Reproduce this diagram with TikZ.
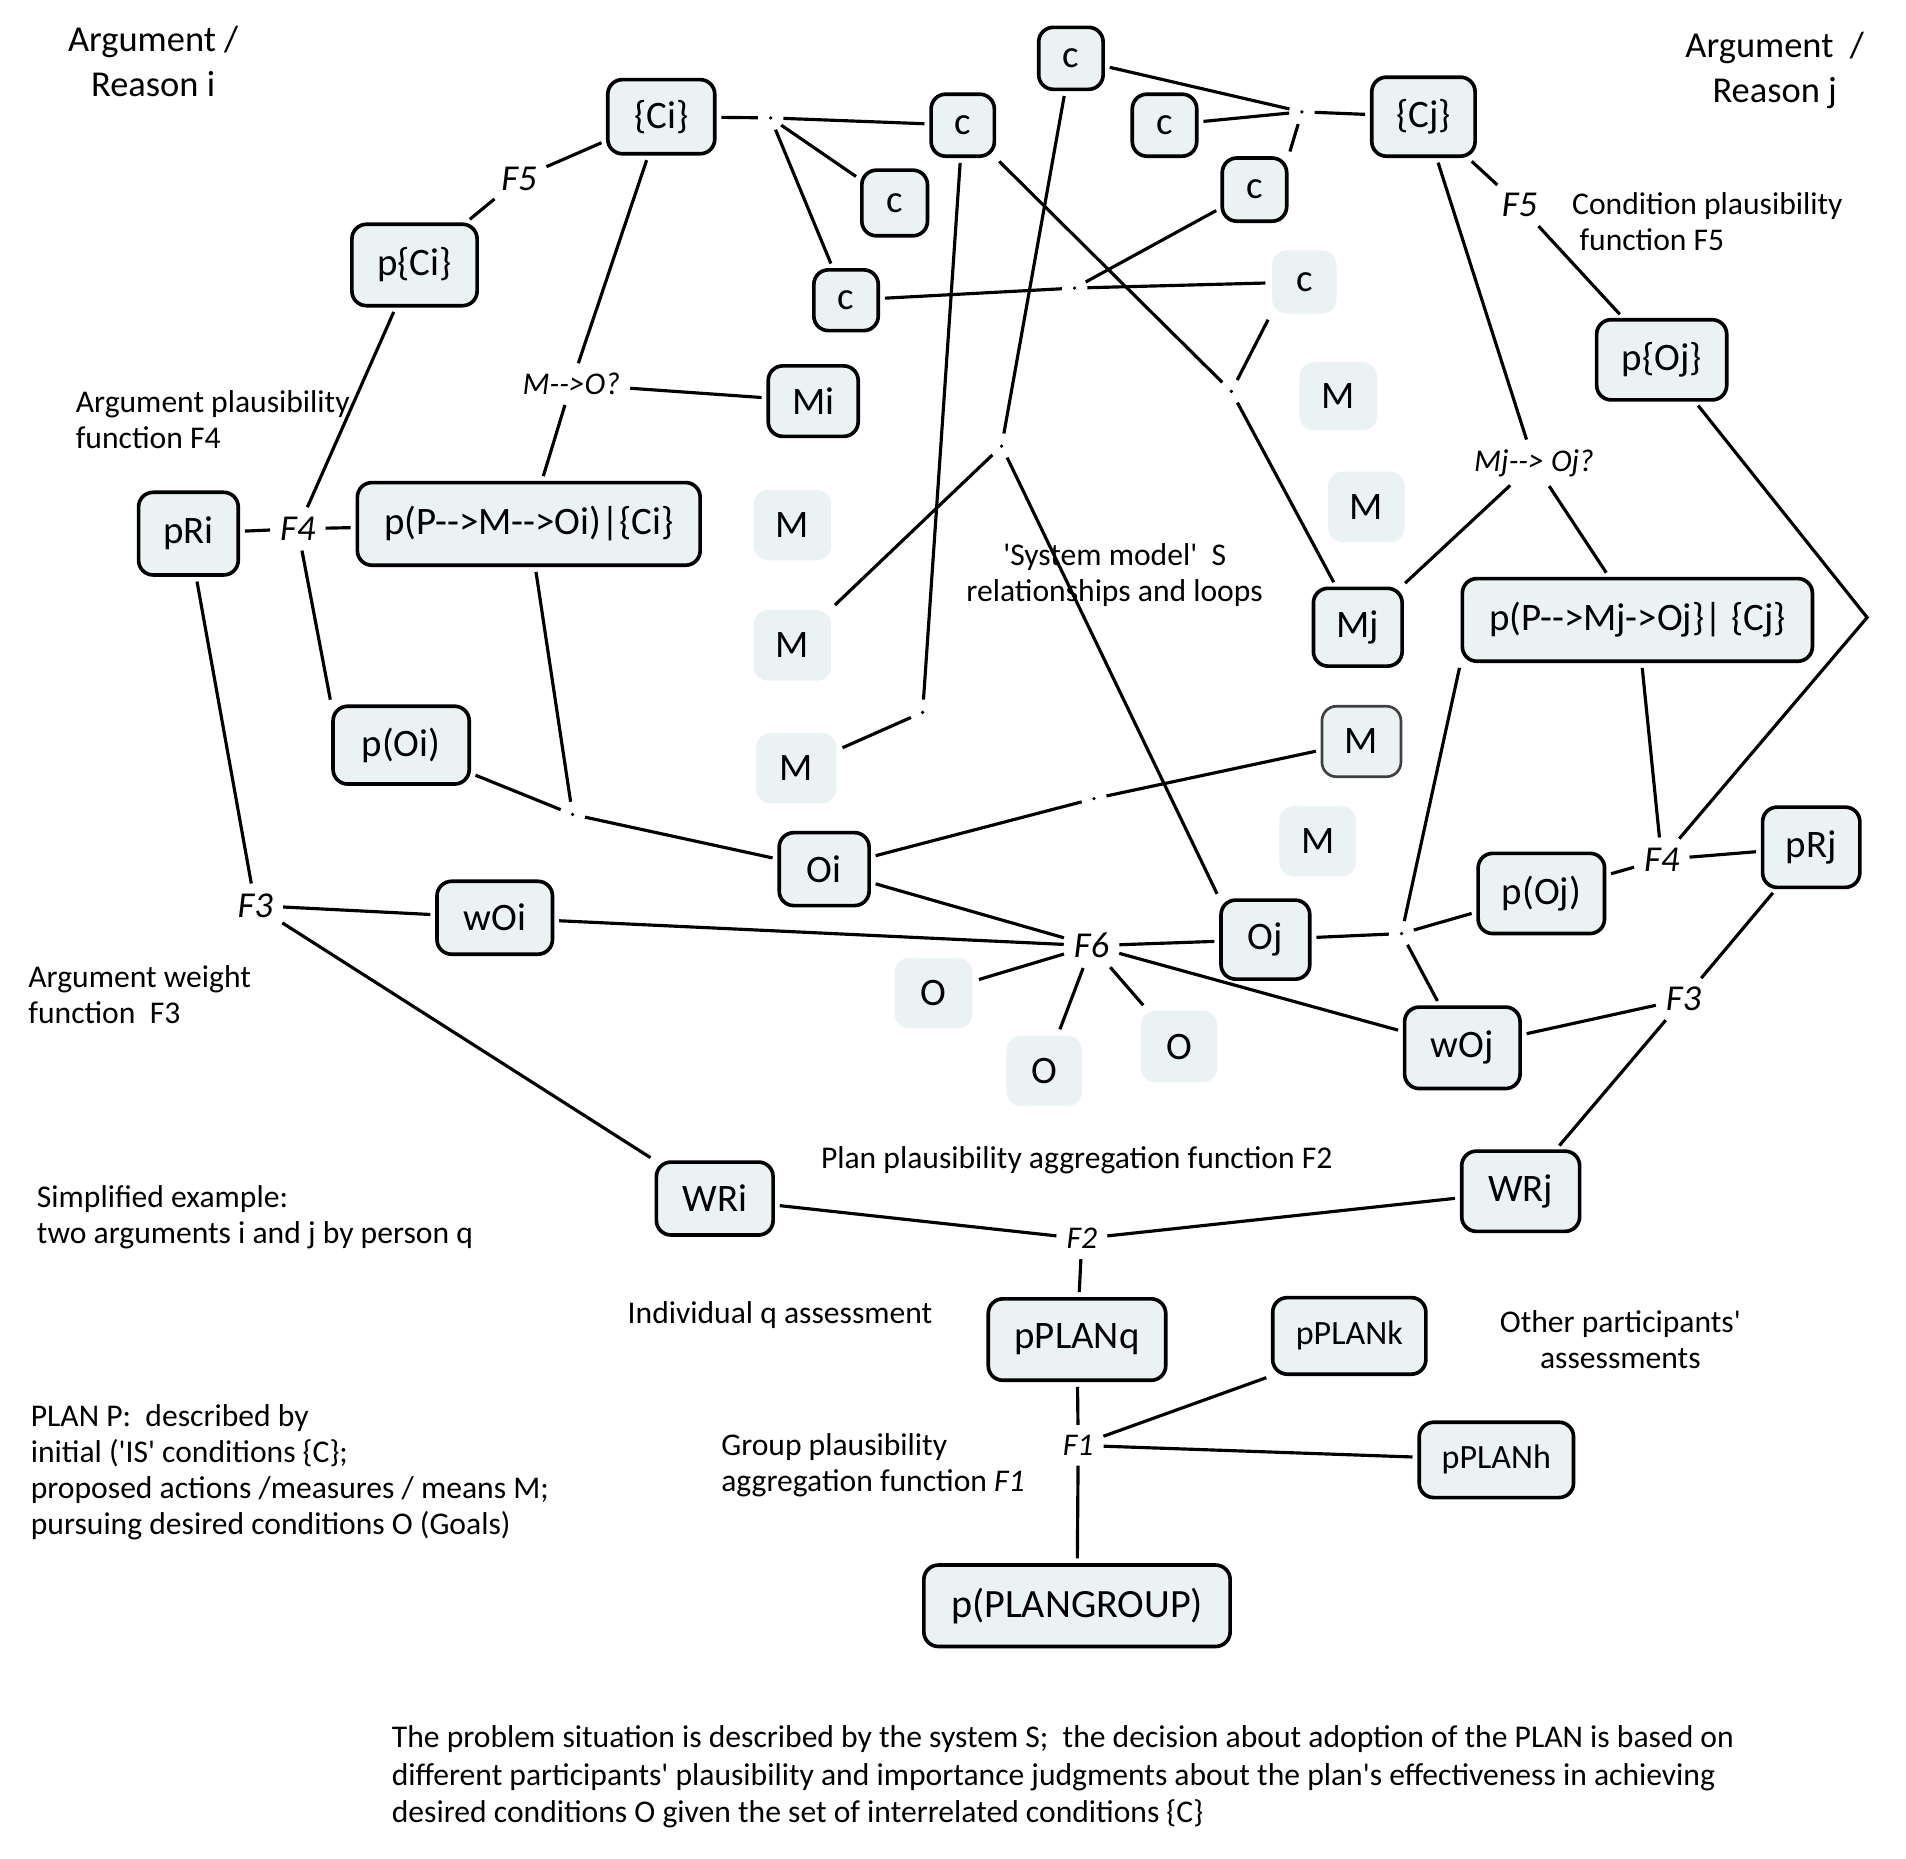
\documentclass[tikz,border=0pt]{standalone}
\usepackage{fontspec}
\setmainfont{Carlito}
\usepackage{xcolor}
\definecolor{boxfill}{RGB}{234,242,244}

\begin{document}
\begin{tikzpicture}[x=0.5pt,y=-0.5pt,
  box/.style={draw,line width=1.5pt,rounded corners=6pt,fill=boxfill,inner sep=0pt,font=\fontsize{16}{19}\selectfont},
  soft/.style={box,draw=none},
  sz/.style 2 args={minimum width=#1pt,minimum height=#2pt},
  conn/.style={line width=1.3pt,shorten <=2pt,shorten >=2pt},
  fn/.style={inner sep=2pt,font=\fontsize{15}{18}\selectfont\itshape},
  qn/.style={inner sep=2pt,font=\fontsize{13}{15}\selectfont\itshape},
  jdot/.style={circle,fill,inner sep=0pt,minimum size=1.5pt,outer sep=2.5pt},
  note/.style={inner sep=0pt,align=left,anchor=base west,font=\fontsize{13}{14.8}\selectfont},
  title/.style={inner sep=0pt,align=center,anchor=base,font=\fontsize{15}{18.5}\selectfont}]
\useasboundingbox (0,0) rectangle (1568,1529);

\node[box,sz={44}{30.5}] (Ci) at (544,96) {\{Ci\}};
\node[box,sz={26}{25.5}] (ci1) at (792,103) {c};
\node[box,sz={27}{27}] (ci2) at (736,167) {c};
\node[box,sz={26.5}{25}] (ci3) at (696,247) {c};
\node[box,sz={51.5}{33.5}] (pCi) at (341,218) {p\{Ci\}};
\node[box,sz={37}{29}] (Mi) at (669,330) {Mi};
\node[soft,sz={32}{29}] (m1) at (652,432) {M};
\node[soft,sz={32}{29}] (m2) at (652,531) {M};
\node[soft,sz={33}{29}] (m3) at (655,632) {M};
\node[box,sz={41}{34}] (pRi) at (155,439) {pRi};
\node[box,sz={141}{34}] (pPMOi) at (435,431) {p(P-{}->M-{}->Oi)|\{Ci\}};
\node[box,sz={56}{32}] (pOi) at (330,613) {p(Oi)};
\node[box,sz={37}{30}] (Oi) at (678,715) {Oi};
\node[box,sz={47.5}{30}] (wOi) at (407,755) {wOi};
\node[box,sz={48}{30}] (WRi) at (588,986) {WRi};
\node[soft,sz={32}{29}] (o1) at (768,817) {O};
\node[soft,sz={31}{29}] (o2) at (859,881) {O};
\node[soft,sz={31.5}{29.5}] (o3) at (970,861) {O};
\node[box,sz={36.5}{32.5}] (Oj) at (1041,773) {Oj};
\node[box,sz={47.5}{33.5}] (wOj) at (1203,862) {wOj};
\node[box,sz={52}{33}] (pOj) at (1268,735) {p(Oj)};
\node[box,sz={40}{33}] (pRj) at (1490,697) {pRj};
\node[box,sz={48.5}{33}] (WRj) at (1251,980) {WRj};
\node[box,sz={73}{33.5}] (pPLANq) at (886,1102) {pPLANq};
\node[box,sz={63}{31.5},font=\fontsize{14}{17}\selectfont] (pPLANk) at (1110,1099) {pPLANk};
\node[box,sz={63.5}{31},font=\fontsize{14}{17}\selectfont] (pPLANh) at (1231,1201) {pPLANh};
\node[box,sz={126}{33.5},font=\fontsize{16.5}{19}\selectfont] (pGroup) at (886,1321) {p(PLANGROUP)};
\node[box,sz={26.5}{25.5}] (cj1) at (881,48) {c};
\node[box,sz={26.5}{25.5}] (cj2) at (958,103) {c};
\node[box,sz={42.5}{32.5}] (Cj) at (1171,96) {\{Cj\}};
\node[box,sz={26.5}{26}] (cj3) at (1032,156) {c};
\node[soft,sz={26.5}{26}] (cj4) at (1073,232) {c};
\node[soft,sz={32}{28}] (m4) at (1101,326) {M};
\node[soft,sz={31.5}{29}] (m5) at (1124,417) {M};
\node[box,sz={36.5}{32}] (Mj) at (1117,516) {Mj};
\node[box,sz={144}{34}] (pPMOj) at (1347,510) {p(P-{}->Mj->Oj\}| \{Cj\}};
\node[box,sz={53.5}{33}] (pOjc) at (1367,296) {p\{Oj\}};
\node[box,sz={32.5}{29},draw=black!75,line width=1.1pt] (m6) at (1120,610) {M};
\node[soft,sz={31.5}{29}] (m7) at (1084,692) {M};

\node[fn] (F5i) at (427,147) {F5};
\node[qn] (MOi) at (470,316) {M-{}->O?};
\node[fn] (F4i) at (245,435) {F4};
\node[fn] (F3i) at (210,745) {F3};
\node[fn] (F6) at (898,778) {F6};
\node[fn] (F4j) at (1367,707) {F4};
\node[fn] (F3j) at (1385,822) {F3};
\node[qn] (F2) at (890,1019) {F2};
\node[qn] (F1) at (887,1189) {F1};
\node[fn] (F5j) at (1250,169) {F5};
\node[qn] (MOj) at (1262,381) {Mj-{}-> Oj?};

\node[jdot] (d1) at (634,97) {};
\node[jdot] (d2) at (1071,92) {};
\node[jdot] (d3) at (884,237) {};
\node[jdot] (d4) at (1013,322) {};
\node[jdot] (d5) at (824,367) {};
\node[jdot] (d6) at (759,586) {};
\node[jdot] (d7) at (471,670) {};
\node[jdot] (d8) at (900,657) {};
\node[jdot] (d9) at (1153,768) {};
\coordinate (bend) at (1536,508);

\foreach \a/\b in {Ci/d1,d1/ci1,d1/ci2,d1/ci3,Ci/F5i,F5i/pCi,Ci/MOi,MOi/pPMOi,MOi/Mi,
  pCi/F4i,pRi/F4i,F4i/pPMOi,F4i/pOi.north west,pRi/F3i,pPMOi/d7,pOi/d7,d7/Oi,Oi/d8,d8/m6,
  Oi/F6,wOi/F6,F3i/wOi,F3i/WRi,F6/o1,F6/o2,F6/o3,F6/Oj,F6/wOj,Oj/d9,d9/pOj,d9/wOj,
  d9/pPMOj.south west,pOj/F4j,F4j/pRj,F4j/pPMOj,pRj/F3j,F3j/wOj,F3j/WRj,WRi/F2,F2/WRj,
  F2/pPLANq,pPLANq/F1,F1/pPLANk.south west,F1/pPLANh,F1/pGroup,Cj/d2,d2/cj1,d2/cj2,
  d2/cj3.north east,cj3/d3,ci3/d3,d3/cj4,ci1/d6,d6/m3,cj1/d5,d5/m2,d5/Oj.north west,
  ci1/d4,d4/cj4.south west,d4/Mj,Mj/MOj,Cj/MOj,MOj/pPMOj,Cj/F5j,F5j/pOjc}
  \draw[conn] (\a) -- (\b);
\draw[conn] (F4j) -- (bend) -- (pOjc);

\node[title] (ti) at (126,79) {Argument /\\Reason i};
\node[title] (tj) at (1460,84) {Argument\ \ /\\Reason j};
\node[note] (nF4) at (62,369) {Argument plausibility\\function F4};
\node[note] (nF3) at (23,842) {Argument weight\\function\ \ F3};
\node[note] (nEx) at (30,1023) {Simplified example:\\two arguments i and j by person q};
\node[note] (nPlan) at (25,1262) {PLAN P:\ \ described by\\initial (\textquotesingle IS\textquotesingle\ conditions \{C\};\\proposed actions /measures / means M;\\pursuing desired conditions O (Goals)};
\node[note] (nF2) at (675,961) {Plan plausibility aggregation function F2};
\node[note] (nInd) at (516,1089) {Individual q assessment};
\node[note,align=center,anchor=base] (nOther) at (1333,1126) {Other participants\textquotesingle\\assessments};
\node[note] (nF1) at (593,1227) {Group plausibility\\aggregation function \textit{F1}};
\node[note,align=center,anchor=base] (nSys) at (917,495) {\textquotesingle System model\textquotesingle\ \ S\\relationships and loops};
\node[note] (nF5) at (1293,206) {Condition plausibility\\\hspace{3pt}function F5};
\node[note,font=\fontsize{13}{15.25}\selectfont] (nProb) at (322,1499) {The problem situation is described by the system S;\ \ the decision about adoption of the PLAN is based on\\different participants\textquotesingle\ plausibility and importance judgments about the plan\textquotesingle s effectiveness in achieving\\desired conditions O given the set of interrelated conditions \{C\}};
\end{tikzpicture}
\end{document}
